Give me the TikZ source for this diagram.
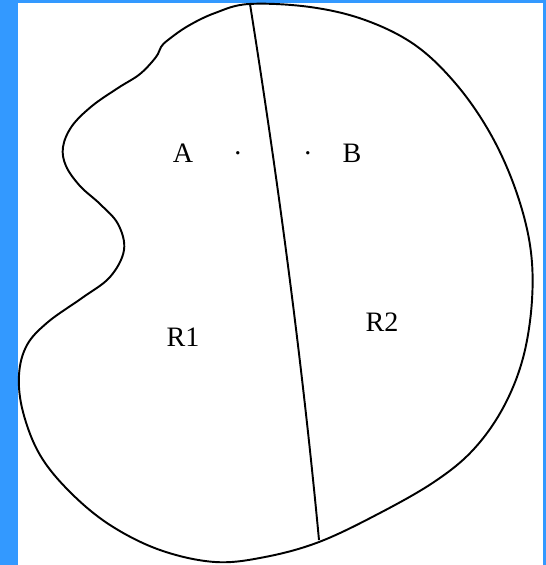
\documentclass[tikz,border=0pt]{standalone}
\usepackage{fontspec}
\setmainfont{Liberation Serif}
\definecolor{frameblue}{RGB}{51,153,255}

\begin{document}
\begin{tikzpicture}[x=0.02cm, y=-0.02cm, line width=1.1pt,
    lbl/.style={font=\fontsize{16}{18}\selectfont, inner sep=0pt}]
    % Frame
    \fill[frameblue] (0,0) rectangle (546,565);
    \fill[white] (18,3) rectangle (543,565);
    \useasboundingbox (0,0) rectangle (546,565);

    % Outline of the region
    \draw plot[smooth cycle, tension=0.6] coordinates {
        (249,4) (310,7) (365,20) (415,45) (456,84) (490,133) (515,188)
        (530,245) (532,300) (523,358) (503,408) (473,450) (434,482)
        (378,514) (319,542) (265,557) (215,562) (160,550) (110,525)
        (70,492) (40,455) (23,412) (19,375) (27,345) (48,322) (82,298)
        (110,277) (124,250) (118,224) (100,204) (80,186) (66,166)
        (63,147) (72,126) (92,106) (118,88) (140,74) (156,57) (161,47)
        (168,40) (188,26) (215,13)};

    % Dividing curve
    \coordinate (top) at (250,4);
    \coordinate (bot) at (319,540);
    \draw (top) .. controls (278,180) and (302,360) .. (bot);

    % Labels
    \node[lbl] (A) at (183,153) {A};
    \node[lbl] (dotA) at (238,153) {.};
    \node[lbl] (dotB) at (308,153) {.};
    \node[lbl] (B) at (352,153) {B};
    \node[lbl] (R1) at (183,337) {R1};
    \node[lbl] (R2) at (382,322) {R2};
\end{tikzpicture}
\end{document}
